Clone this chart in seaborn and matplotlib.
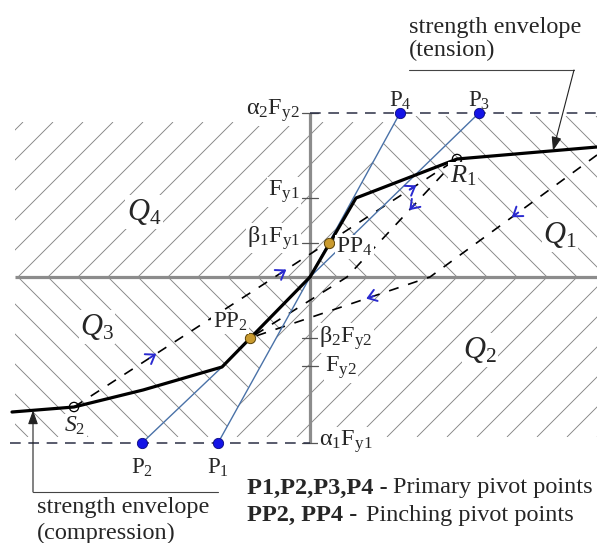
import numpy as np
import matplotlib
matplotlib.use("Agg")
import matplotlib.pyplot as plt
import seaborn as sns
from matplotlib.collections import LineCollection
from matplotlib.patches import Polygon

# ---------------- data (displacement units / force units) ----------------
# force levels marked on the vertical axis
force_levels = [164, 79, 34, -61, -89, -166]
force_labels = [r"$\alpha_2F_{y2}$", r"$F_{y1}$", r"$\beta_1F_{y1}$",
                r"$\beta_2F_{y2}$", r"$F_{y2}$", r"$\alpha_1F_{y1}$"]

# strength envelope, tension and compression branches
env_t_x = [0, 46, 147, 287]
env_t_y = [0, 79, 118, 130]
env_c_x = [0, -88, -167, -236, -298]
env_c_y = [0, -90, -113, -130, -135]

# primary pivot points
pivot_names = ["P1", "P2", "P3", "P4"]
pivot_x = [-92, -168, 169, 90]
pivot_y = [-166, -166, 164, 164]

# pinching pivot points (on the envelope at the beta levels)
pinch_names = ["PP2", "PP4"]
pinch_x = [-60, 19]
pinch_y = [-61, 34]

# load reversal points
rev_names = ["R1", "S2"]
rev_x = [147, -236]
rev_y = [118, -130]

# hysteresis paths (dashed)
path_a_x = [-236, 147]          # S2 -> PP4 -> R1
path_a_y = [-130, 118]
path_b_x = [147, 37, -60]       # R1 -> axis -> PP2
path_b_y = [118, 0, -61]
path_c_x = [287, 120, -60]      # upper branch -> axis -> PP2
path_c_y = [122, 0, -61]

# direction arrows on the paths (x positions)
arrows_a = [-157, -27, 103]
arrows_b = [102]
arrows_c = [205, 60]

# ---------------- styling ----------------
sns.set_theme(style="white")
plt.rcParams["font.family"] = ["Liberation Serif", "DejaVu Serif"]
plt.rcParams["mathtext.fontset"] = "custom"
plt.rcParams["mathtext.rm"] = "Liberation Serif"
plt.rcParams["mathtext.it"] = "Liberation Serif:italic"
plt.rcParams["mathtext.bf"] = "Liberation Serif:bold"
plt.rcParams["mathtext.default"] = "rm"

AXIS_GRAY = "#8c8c8c"
HATCH_GRAY = "#858585"
RAY_BLUE = "#4a72a8"
ARROW_BLUE = "#2a2ad0"
PIVOT_BLUE = "#1414e6"
PINCH_GOLD = "#c99a2e"
TXT = 17.5

fig = plt.figure(figsize=(5.97, 5.43), dpi=100)
ax = fig.add_axes([0, 0, 1, 1])
ax.set_xlim(-310, 287)
ax.set_ylim(-266, 277)
ax.axis("off")


def hatch(poly, slope, spacing, phase):
    """Fill a polygon with 45-degree hatch lines clipped to it."""
    patch = Polygon(poly, closed=True, fc="none", ec="none")
    ax.add_patch(patch)
    ys = [p[1] for p in poly]
    y0, y1 = min(ys), max(ys)
    segs = []
    for c in np.arange(phase - 900, 900, spacing):
        segs.append([(c + slope * y0, y0), (c + slope * y1, y1)])
    lc = LineCollection(segs, colors=HATCH_GRAY, linewidths=0.65, zorder=1)
    ax.add_collection(lc)
    lc.set_clip_path(patch)


# quadrant hatching; boundaries follow the P4 and P1 rays
p4x, p4y = pivot_x[3], pivot_y[3]
p1x, p1y = pivot_x[0], pivot_y[0]
top_q4, top_q1, bot = 155, 161, -160
hatch([(-295, 0), (-295, top_q4), (p4x * top_q4 / p4y, top_q4), (0, 0)], 1, 30, 8)
hatch([(0, 0), (p4x * top_q1 / p4y, top_q1), (287, top_q1), (287, 0)], -1, 30, 27)
hatch([(-295, 0), (0, 0), (p1x * bot / p1y, bot), (-295, bot)], -1, 30, 8)
hatch([(0, 0), (287, 0), (287, bot), (p1x * bot / p1y, bot)], 1, 30, 27)

# axes
ax.plot([-295, 287], [0, 0], color=AXIS_GRAY, lw=2.3, zorder=2, solid_capstyle="butt")
ax.plot([0, 0], [force_levels[-1], force_levels[0]], color=AXIS_GRAY, lw=2.3, zorder=2,
        solid_capstyle="butt")
for lv in force_levels:
    ax.plot([-8, 8], [lv, lv], color="#555555", lw=0.9, zorder=2)

# alpha levels (dashed)
ax.plot([0, 287], [force_levels[0], force_levels[0]], color="#2b2f45", lw=1.1,
        dashes=(7, 5), zorder=3)
ax.plot([-300, 0], [force_levels[-1], force_levels[-1]], color="#2b2f45", lw=1.1,
        dashes=(7, 5), zorder=3)

# hysteresis paths
for px_, py_ in [(path_a_x, path_a_y), (path_b_x, path_b_y), (path_c_x, path_c_y)]:
    ax.plot(px_, py_, color="black", lw=1.2, dashes=(6, 6), zorder=4)


def path_arrow(xs, ys, xq):
    xs = np.asarray(xs, float)
    ys = np.asarray(ys, float)
    for i in range(len(xs) - 1):
        lo, hi = sorted((xs[i], xs[i + 1]))
        if lo <= xq <= hi:
            a = np.array([xs[i], ys[i]])
            b = np.array([xs[i + 1], ys[i + 1]])
            d = (b - a) / np.hypot(*(b - a))
            p = a + (xq - xs[i]) / (xs[i + 1] - xs[i]) * (b - a)
            ax.annotate("", xy=p + 4 * d, xytext=p - 4 * d,
                        arrowprops=dict(arrowstyle="->,head_length=0.5,head_width=0.35",
                                        color=ARROW_BLUE, lw=1.4, shrinkA=0, shrinkB=0),
                        zorder=6)
            return


for xq in arrows_a:
    path_arrow(path_a_x, path_a_y, xq)
for xq in arrows_b:
    path_arrow(path_b_x, path_b_y, xq)
for xq in arrows_c:
    path_arrow(path_c_x, path_c_y, xq)

# rays from the primary pivot points
ray_ends = {"P1": (0, 0), "P2": (env_c_x[1], env_c_y[1]), "P3": (0, 0), "P4": (0, 0)}
for name, x, y in zip(pivot_names, pivot_x, pivot_y):
    ex, ey = ray_ends[name]
    sns.lineplot(x=[x, ex], y=[y, ey], sort=False, estimator=None, color=RAY_BLUE,
                 lw=1.0, ax=ax, zorder=5)

# strength envelope
sns.lineplot(x=env_t_x, y=env_t_y, sort=False, estimator=None, color="black", lw=2.3,
             ax=ax, zorder=7)
sns.lineplot(x=env_c_x, y=env_c_y, sort=False, estimator=None, color="black", lw=2.3,
             ax=ax, zorder=7)

# points
sns.scatterplot(x=pivot_x, y=pivot_y, s=55, color=PIVOT_BLUE, edgecolor="#0a0a80",
                linewidth=0.6, ax=ax, zorder=8)
sns.scatterplot(x=pinch_x, y=pinch_y, s=55, color=PINCH_GOLD, edgecolor="#5a4208",
                linewidth=0.7, ax=ax, zorder=8)
sns.scatterplot(x=rev_x, y=rev_y, s=45, facecolor="none", edgecolor="black",
                linewidth=0.9, ax=ax, zorder=8)

white = dict(boxstyle="square,pad=0.05", fc="white", ec="none")

# force level labels
label_pos = [(-10, 166, "right"), (-10, 85, "right"), (-10, 39, "right"),
             (9, -61, "left"), (15, -91, "left"), (9, -165, "left")]
for (lx, ly, ha), text in zip(label_pos, force_labels):
    ax.text(lx, ly, text, ha=ha, va="center", fontsize=17.5, bbox=white, zorder=9)

# pivot labels
for name, x, y in zip(pivot_names, pivot_x, pivot_y):
    num = name[1]
    dy = 12 if y > 0 else -25
    ax.text(x, y + dy, r"$\mathrm{P}_{%s}$" % num, ha="center", va="center",
            fontsize=16.5, zorder=9)

ax.text(26, 30, r"$\mathrm{PP}_4$", ha="left", va="center", fontsize=17, bbox=white, zorder=9)
ax.text(-80, -45, r"$\mathrm{PP}_2$", ha="center", va="center", fontsize=16.5, bbox=white, zorder=9)
ax.text(153, 101, r"$\mathit{R}_\mathit{1}$", ha="center", va="center", fontsize=19,
        bbox=white, zorder=9)
ax.text(-235, -149, r"$\mathit{S}_\mathit{2}$", ha="center", va="center", fontsize=17,
        bbox=white, zorder=9)

# quadrant labels
for txt, qx, qy in [(r"$\mathit{Q}_\mathit{4}$", -166, 65), (r"$\mathit{Q}_\mathit{1}$", 250, 42),
                    (r"$\mathit{Q}_\mathit{3}$", -213, -50), (r"$\mathit{Q}_\mathit{2}$", 170, -73)]:
    ax.text(qx, qy, txt, ha="center", va="center", fontsize=22, bbox=white, zorder=9)

# strength envelope call-outs
ax.text(99, 250, "strength envelope", ha="left", va="center", fontsize=TXT, zorder=9)
ax.text(99, 227, "(tension)", ha="left", va="center", fontsize=TXT, zorder=9)
ax.plot([99, 264], [207, 207], color="#444444", lw=0.8, zorder=9)
tip_t = 243
ax.annotate("", xy=(tip_t, np.interp(tip_t, env_t_x, env_t_y)), xytext=(264, 207),
            arrowprops=dict(arrowstyle="-|>,head_length=0.7,head_width=0.25", color="#222222",
                            lw=0.8, shrinkA=0, shrinkB=0), zorder=9)

ax.text(-273, -230, "strength envelope", ha="left", va="center", fontsize=TXT, zorder=9)
ax.text(-273, -256, "(compression)", ha="left", va="center", fontsize=TXT, zorder=9)
ax.plot([-277, -92], [-215, -215], color="#444444", lw=0.8, zorder=9)
tip_c = -277
ax.annotate("", xy=(tip_c, np.interp(tip_c, env_c_x[::-1], env_c_y[::-1])), xytext=(tip_c, -215),
            arrowprops=dict(arrowstyle="-|>,head_length=0.7,head_width=0.25", color="#222222",
                            lw=0.8, shrinkA=0, shrinkB=0), zorder=9)

# notes
n1 = ax.text(-63, -211, "P1,P2,P3,P4 -", ha="left", va="center", fontsize=TXT,
             fontweight="bold", zorder=9)
ax.annotate("Primary pivot points", xy=(1, 0.5), xycoords=n1, xytext=(4, 0),
            textcoords="offset points", ha="left", va="center", fontsize=TXT)
n2 = ax.text(-63, -238, "PP2, PP4 -", ha="left", va="center", fontsize=TXT,
             fontweight="bold", zorder=9)
ax.annotate("Pinching pivot points", xy=(1, 0.5), xycoords=n2, xytext=(6, 0),
            textcoords="offset points", ha="left", va="center", fontsize=TXT)

fig.savefig("out.png", dpi=100)
